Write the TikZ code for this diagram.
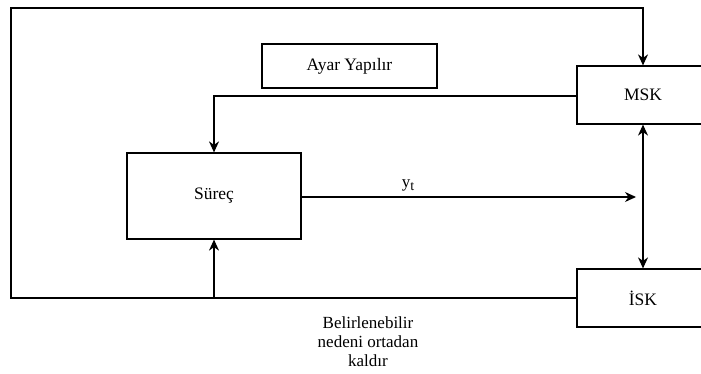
\documentclass[tikz,border=0pt]{standalone}
\usepackage{fontspec}
\setmainfont{Liberation Serif}
\usetikzlibrary{arrows.meta,calc}
\begin{document}
\begin{tikzpicture}[x=1pt,y=-1pt,
  blk/.style={draw=black,line width=1.2pt,rectangle,inner sep=0pt,font=\fontsize{17.5}{19}\selectfont},
  wire/.style={draw=black,line width=1.2pt},
  tip/.style={-{Stealth[length=11pt,width=10pt,inset=3.5pt]}},
  lbl/.style={font=\fontsize{17}{19}\selectfont,inner sep=0pt}]
  \useasboundingbox (0,0) rectangle (701,374);

  % blocks
  \node[blk,minimum width=174pt,minimum height=86pt] (proc) at (214,196) {Süreç};
  \node[blk,minimum width=175pt,minimum height=44pt] (adj) at (349.5,66) {Ayar Yapılır};
  \node[blk,minimum width=132pt,minimum height=58pt] (msk) at (643,95) {MSK};
  \node[blk,minimum width=132pt,minimum height=58pt] (isk) at (643,298) {İSK};

  % free ends of the loops
  \coordinate (topR) at (643,8);
  \coordinate (topL) at (11,8);
  \coordinate (botL) at (11,298);
  \coordinate (split) at (214,298);
  \coordinate (corner) at (214,96);
  \coordinate (yend) at (636,197);

  % outer feedback loop from İSK back into MSK
  \draw[wire,tip] (isk.west) -- (botL) -- (topL) -- (topR) -- (msk.north);
  % branch from the bottom line into the process
  \draw[wire,tip] (split) -- (proc.south);
  % MSK back to the process
  \draw[wire,tip] (msk.west |- corner) -- (corner) -- (proc.north);
  % process output
  \draw[wire,tip] (proc.east |- yend) -- (yend);
  \node[lbl] (yt) at (408,185) {y{\fontsize{14}{14}\selectfont\raisebox{-3pt}{t}}};
  % link between the two charts
  \draw[wire,{Stealth[length=11pt,width=10pt,inset=3.5pt]}-{Stealth[length=11pt,width=10pt,inset=3.5pt]}] (msk.south) -- (isk.north);

  \node[lbl,align=center] (note) at (368,342) {Belirlenebilir\\nedeni ortadan\\kaldır};
\end{tikzpicture}
\end{document}
